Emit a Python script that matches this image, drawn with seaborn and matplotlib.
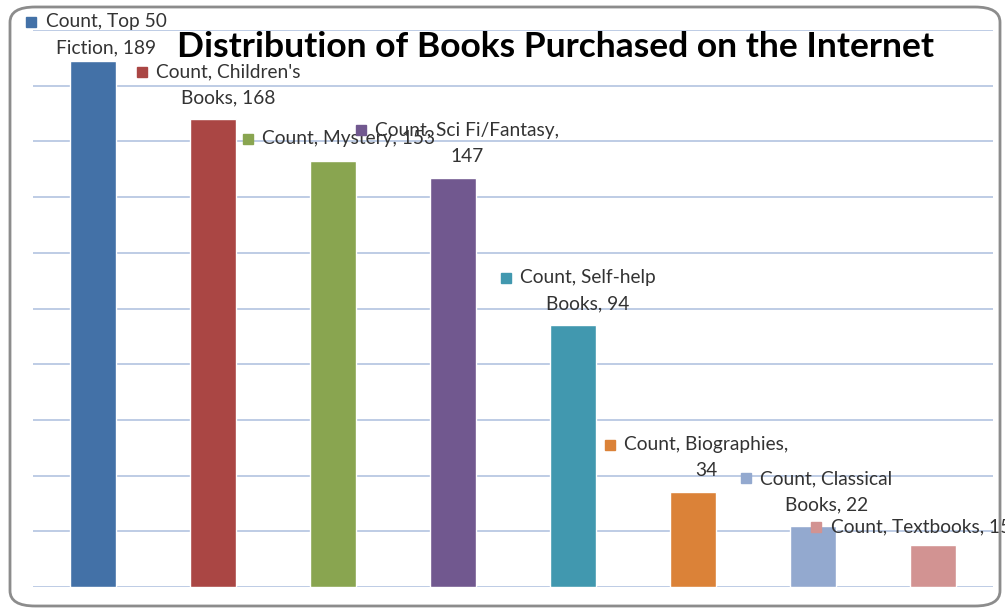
import numpy as np
import matplotlib
matplotlib.use('Agg')
import matplotlib.pyplot as plt
import seaborn as sns
from matplotlib.patches import FancyBboxPatch

# データ
categories = ['Top 50 Fiction', "Children's Books", 'Mystery', 'Sci Fi/Fantasy',
              'Self-help Books', 'Biographies', 'Classical Books', 'Textbooks']
counts = [189, 168, 153, 147, 94, 34, 22, 15]
label_line1 = ['Count, Top 50', "Count, Children's", 'Count, Mystery, 153',
               'Count, Sci Fi/Fantasy,', 'Count, Self-help', 'Count, Biographies,',
               'Count, Classical', 'Count, Textbooks, 15']
label_line2 = ['Fiction, 189', 'Books, 168', '', '147', 'Books, 94', '34',
               'Books, 22', '']
bar_colors = ['#4371A7', '#AA4644', '#89A550', '#71588F',
              '#4198AF', '#DB8238', '#93A9CF', '#D29392']

# ラベルの位置（データ座標、1行目の中心）
label_x = [0.11, 1.13, 2.13, 3.12, 4.125, 5.11, 6.11, 6.90]
label_y = [203, 185, 161, 164, 111, 51, 39, 21.5]

sns.set_style('white')
plt.rcParams['font.family'] = ['Lato', 'DejaVu Sans']

fig = plt.figure(figsize=(10.05, 6.08), dpi=100)
ax = fig.add_axes([33 / 1005, 1 - 587 / 608, 960 / 1005, 557 / 608])

sns.barplot(x=categories, y=counts, hue=categories, order=categories,
            palette=bar_colors, legend=False, width=0.39, saturation=1, ax=ax,
            zorder=3)

ax.set_ylim(0, 200)
ax.set_xlim(-0.5, len(counts) - 0.5)
ax.set_yticks(np.arange(0, 201, 20))
ax.yaxis.grid(True, color='#B9C8E3', linewidth=1.3, zorder=0)
ax.set_axisbelow(True)
ax.tick_params(left=False, bottom=False, labelleft=False, labelbottom=False)
ax.set_xlabel('')
ax.set_ylabel('')
for s in ax.spines.values():
    s.set_visible(False)

# データラベル
fig.canvas.draw()
renderer = fig.canvas.get_renderer()
line_gap = 26 / 557 * 200  # 行間（データ単位）
for i in range(len(counts)):
    t = ax.text(label_x[i], label_y[i], label_line1[i], ha='center', va='center',
                fontsize=13.8, color='#333333', clip_on=False, zorder=5)
    if label_line2[i]:
        ax.text(label_x[i], label_y[i] - line_gap, label_line2[i], ha='center',
                va='center', fontsize=13.8, color='#333333', clip_on=False, zorder=5)
    bb = t.get_window_extent(renderer).transformed(ax.transData.inverted())
    ax.plot(bb.x0 - 0.12, label_y[i], marker='s', markersize=7,
            color=bar_colors[i], clip_on=False, zorder=5)

# タイトル
fig.text(555 / 1005, 1 - 47 / 608, 'Distribution of Books Purchased on the Internet',
         ha='center', va='center', fontsize=25.5, fontweight='bold', color='black')

# 枠
frame = FancyBboxPatch((10 / 1005, 1 - 606 / 608), 990 / 1005, 599 / 608,
                       boxstyle='round,pad=0,rounding_size=0.025',
                       transform=fig.transFigure, fill=False,
                       edgecolor='#8c8c8c', linewidth=2, clip_on=False)
fig.patches.append(frame)

fig.savefig('out.png', dpi=100)
